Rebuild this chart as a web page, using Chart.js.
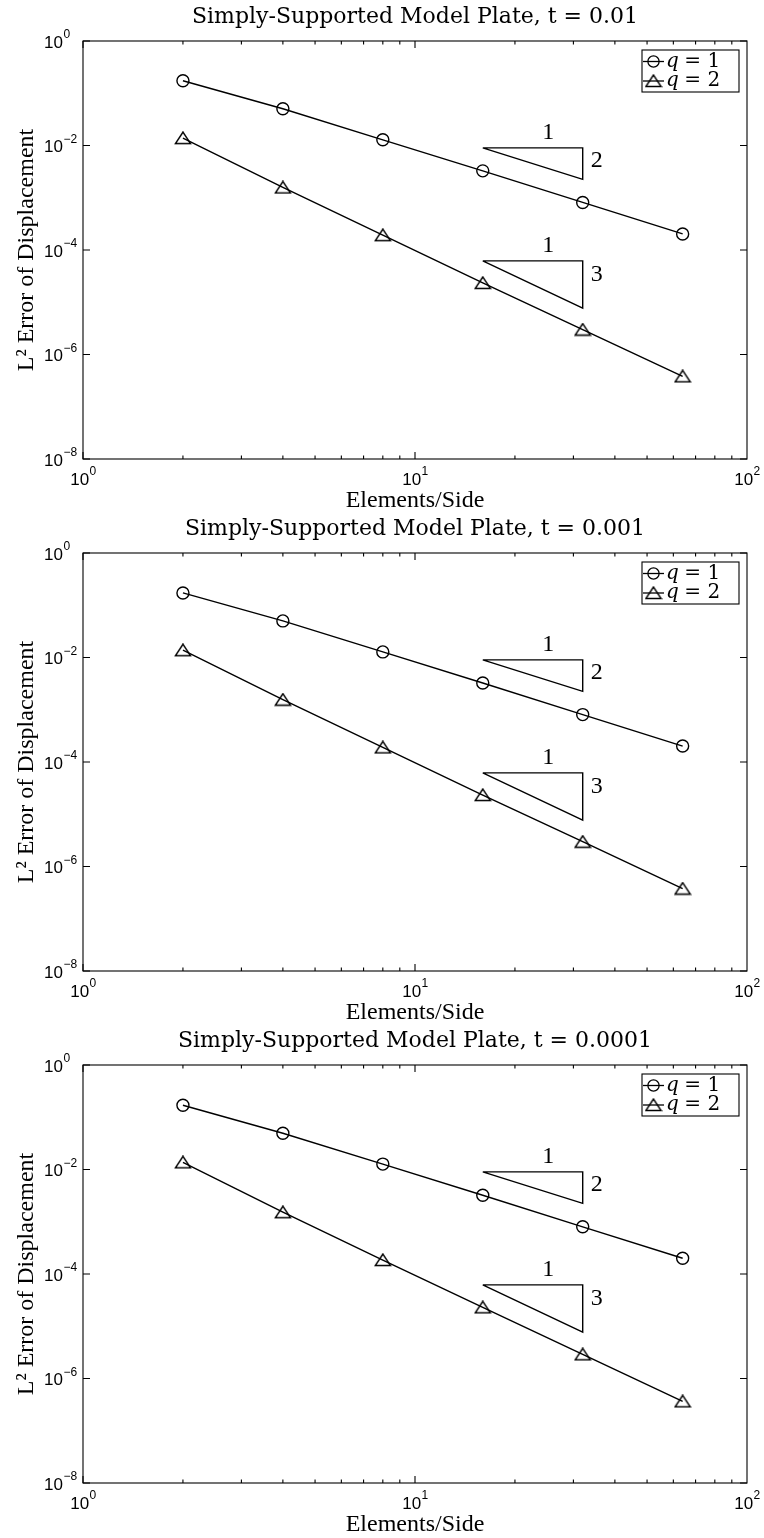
<!DOCTYPE html>
<html>
<head>
<meta charset="utf-8">
<script src="https://cdn.jsdelivr.net/npm/chart.js@4.4.1/dist/chart.umd.min.js"></script>
<style>
  html, body { margin: 0; padding: 0; background: #ffffff; }
  .panel { position: relative; width: 764px; height: 512px; }
  canvas { display: block; }
</style>
</head>
<body>
<div class="panel"><canvas id="c1" width="764" height="512"></canvas></div>
<div class="panel"><canvas id="c2" width="764" height="512"></canvas></div>
<div class="panel"><canvas id="c3" width="764" height="512"></canvas></div>
<script>
// ---------------- data ----------------
const elementsPerSide = [2, 4, 8, 16, 32, 64];

const panelTitles = [
  'Simply-Supported Model Plate, t = 0.01',
  'Simply-Supported Model Plate, t = 0.001',
  'Simply-Supported Model Plate, t = 0.0001'
];

const errorQ1_t1e2 = [0.1735, 0.0505, 0.01285, 0.00327, 0.000813, 0.000203];
const errorQ2_t1e2 = [0.01387, 0.001574, 0.0001923, 2.344e-5, 3.0e-6, 3.82e-7];
const errorQ1_t1e3 = [0.1720, 0.0502, 0.01280, 0.00325, 0.000808, 0.000202];
const errorQ2_t1e3 = [0.01380, 0.001560, 0.0001900, 2.330e-5, 2.98e-6, 3.78e-7];
const errorQ1_t1e4 = [0.1700, 0.0495, 0.01270, 0.00322, 0.000800, 0.000200];
const errorQ2_t1e4 = [0.01370, 0.001520, 0.0001850, 2.300e-5, 2.90e-6, 3.65e-7];

const seriesLabels = ['q = 1', 'q = 2'];

// slope triangles (x, y) and their labels
const slope2TriangleX = [16, 32, 32, 16];
const slope2TriangleY = [0.009, 0.009, 0.00225, 0.009];
const slope3TriangleX = [16, 32, 32, 16];
const slope3TriangleY = [6.2e-5, 6.2e-5, 7.75e-6, 6.2e-5];
const slopeLabelText = ['1', '2', '1', '3'];
const slopeLabelX = [25.2, 35.3, 25.2, 35.3];
const slopeLabelY = [0.0178, 0.00509, 1.2e-4, 3.4e-5];

// axes
const xTickValues = [1, 10, 100];
const xTickExponents = ['0', '1', '2'];
const yTickValues = [1, 1e-2, 1e-4, 1e-6, 1e-8];
const yTickExponents = ['0', '\u22122', '\u22124', '\u22126', '\u22128'];
const tickBase = '10';
const xAxisTitle = 'Elements/Side';
const yAxisTitle = 'L\u00B2 Error of Displacement';

// ---------------- helpers ----------------
function makeTriangleMarker() {
  const c = document.createElement('canvas');
  c.width = 18; c.height = 14;
  const g = c.getContext('2d');
  g.lineWidth = 1.4;
  g.strokeStyle = '#000';
  g.lineJoin = 'miter';
  g.beginPath();
  g.moveTo(9, 1.0);
  g.lineTo(1.4, 12.5);
  g.lineTo(16.6, 12.5);
  g.closePath();
  g.stroke();
  return c;
}
const triangleMarker = makeTriangleMarker();

function xy(xs, ys) { return xs.map((x, i) => ({ x: x, y: ys[i] })); }

const BASE_FONT = '17px "Liberation Sans", Arial, sans-serif';
const EXP_FONT = '12px "Liberation Sans", Arial, sans-serif';

const decorPlugin = {
  id: 'decor',
  afterDatasetsDraw(chart) {
    const { ctx, chartArea: a, scales } = chart;
    const xs = scales.x, ys = scales.y;
    ctx.save();
    ctx.strokeStyle = '#000';
    ctx.fillStyle = '#000';
    ctx.lineWidth = 1.1;
    // frame
    ctx.strokeRect(a.left, a.top, a.right - a.left, a.bottom - a.top);
    // x ticks (inward, top and bottom)
    ctx.beginPath();
    for (let d = 1; d <= 10; d *= 10) {
      for (let k = 1; k <= 9; k++) {
        const px = xs.getPixelForValue(k * d);
        const len = k === 1 ? 7 : 3.5;
        ctx.moveTo(px, a.bottom); ctx.lineTo(px, a.bottom - len);
        ctx.moveTo(px, a.top); ctx.lineTo(px, a.top + len);
      }
    }
    // y ticks
    yTickValues.forEach(v => {
      const py = ys.getPixelForValue(v);
      ctx.moveTo(a.left, py); ctx.lineTo(a.left + 7, py);
      ctx.moveTo(a.right, py); ctx.lineTo(a.right - 7, py);
    });
    ctx.stroke();

    // y tick labels: 10 with superscript exponent
    ctx.textBaseline = 'middle';
    yTickValues.forEach((v, i) => {
      const py = ys.getPixelForValue(v);
      const xEnd = a.left - 20;
      ctx.font = BASE_FONT;
      ctx.textAlign = 'right';
      ctx.fillText(tickBase, xEnd, py + 2);
      ctx.font = EXP_FONT;
      ctx.textAlign = 'left';
      ctx.fillText(yTickExponents[i], xEnd + 0.5, py - 6);
    });
    // x tick labels
    xTickValues.forEach((v, i) => {
      const px = xs.getPixelForValue(v);
      ctx.font = BASE_FONT;
      const wb = ctx.measureText(tickBase).width;
      ctx.font = EXP_FONT;
      const we = ctx.measureText(xTickExponents[i]).width;
      const x0 = px - (wb + we) / 2;
      ctx.textAlign = 'left';
      ctx.font = BASE_FONT;
      ctx.fillText(tickBase, x0, a.bottom + 21);
      ctx.font = EXP_FONT;
      ctx.fillText(xTickExponents[i], x0 + wb + 0.5, a.bottom + 13);
    });

    // slope labels
    ctx.font = '24px "Liberation Serif", "Times New Roman", serif';
    ctx.textAlign = 'center';
    ctx.textBaseline = 'middle';
    slopeLabelText.forEach((t, i) => {
      ctx.fillText(t, xs.getPixelForValue(slopeLabelX[i]), ys.getPixelForValue(slopeLabelY[i]));
    });

    // legend box
    const bx = a.right - 105, by = a.top + 9, bw = 97, bh = 42;
    ctx.fillStyle = '#fff';
    ctx.fillRect(bx, by, bw, bh);
    ctx.lineWidth = 1.1;
    ctx.strokeRect(bx, by, bw, bh);
    const rows = [by + 11.5, by + 31];
    ctx.lineWidth = 1.3;
    rows.forEach((ry, i) => {
      ctx.beginPath();
      ctx.moveTo(bx + 1, ry); ctx.lineTo(bx + 22, ry);
      ctx.stroke();
      if (i === 0) {
        ctx.beginPath();
        ctx.arc(bx + 11.5, ry, 5.6, 0, Math.PI * 2);
        ctx.stroke();
      } else {
        ctx.drawImage(triangleMarker, bx + 11.5 - 9, ry - 7);
      }
      ctx.fillStyle = '#000';
      ctx.textAlign = 'left';
      ctx.textBaseline = 'middle';
      const parts = seriesLabels[i].split(' ');
      ctx.font = 'italic 20px "DejaVu Serif", serif';
      ctx.fillText(parts[0], bx + 24, ry);
      ctx.font = '20px "DejaVu Serif", serif';
      ctx.fillText(' ' + parts.slice(1).join(' '), bx + 36, ry);
    });
    ctx.restore();
  }
};

function makeChart(id, title, q1, q2) {
  const lineStyle = { borderColor: '#000', borderWidth: 1.4, fill: false, tension: 0 };
  return new Chart(document.getElementById(id), {
    type: 'line',
    data: {
      datasets: [
        Object.assign({
          label: seriesLabels[0],
          data: xy(elementsPerSide, q1),
          pointStyle: 'circle', pointRadius: 6, pointBorderWidth: 1.4,
          pointBorderColor: '#000', pointBackgroundColor: 'rgba(0,0,0,0)'
        }, lineStyle),
        Object.assign({
          label: seriesLabels[1],
          data: xy(elementsPerSide, q2),
          pointStyle: triangleMarker, pointRadius: 7,
          pointBorderColor: '#000', pointBackgroundColor: 'rgba(0,0,0,0)'
        }, lineStyle),
        Object.assign({
          label: 'slope 2',
          data: xy(slope2TriangleX, slope2TriangleY),
          pointRadius: 0
        }, lineStyle),
        Object.assign({
          label: 'slope 3',
          data: xy(slope3TriangleX, slope3TriangleY),
          pointRadius: 0
        }, lineStyle)
      ]
    },
    options: {
      responsive: false,
      animation: false,
      devicePixelRatio: 1,
      layout: { padding: { left: 0, right: 17, top: 0, bottom: 0 } },
      plugins: {
        legend: { display: false },
        tooltip: { enabled: false },
        title: {
          display: true,
          text: title,
          fullSize: false,
          color: '#000',
          font: { family: '"DejaVu Serif", serif', size: 22, weight: 'normal', lineHeight: 1.2 },
          padding: { top: 4, bottom: 10.6 }
        }
      },
      scales: {
        x: {
          type: 'logarithmic',
          position: 'bottom',
          min: 1, max: 100,
          grid: { display: false },
          border: { display: false },
          afterBuildTicks: s => { s.ticks = xTickValues.map(v => ({ value: v })); },
          afterFit: s => { s.height = 53; },
          ticks: { display: false },
          title: {
            display: true, text: xAxisTitle, color: '#000',
            font: { family: '"Liberation Serif", "Times New Roman", serif', size: 24, lineHeight: 0.9 },
            padding: { top: 0, bottom: 0 }
          }
        },
        y: {
          type: 'logarithmic',
          position: 'left',
          min: 1e-8, max: 1,
          grid: { display: false },
          border: { display: false },
          afterBuildTicks: s => { s.ticks = yTickValues.map(v => ({ value: v })); },
          afterFit: s => { s.width = 83; },
          ticks: { display: false },
          title: {
            display: true, text: yAxisTitle, color: '#000',
            font: { family: '"Liberation Serif", "Times New Roman", serif', size: 24, lineHeight: 1.2 },
            padding: { top: 12.6, bottom: 0 }
          }
        }
      }
    },
    plugins: [decorPlugin]
  });
}

makeChart('c1', panelTitles[0], errorQ1_t1e2, errorQ2_t1e2);
makeChart('c2', panelTitles[1], errorQ1_t1e3, errorQ2_t1e3);
makeChart('c3', panelTitles[2], errorQ1_t1e4, errorQ2_t1e4);
</script>
</body>
</html>
